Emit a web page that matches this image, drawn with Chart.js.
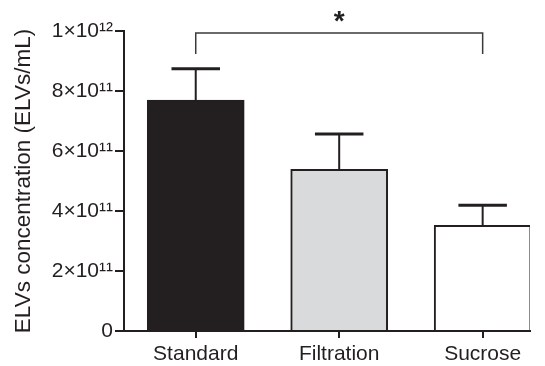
<!doctype html>
<html>
<head>
<title>ELVs concentration</title>
<script src="https://cdn.jsdelivr.net/npm/chart.js@4.4.1/dist/chart.umd.min.js"></script>
<style>
  html, body { margin: 0; padding: 0; background: #fff; }
  canvas { display: block; }
</style>
</head>
<body>
<canvas id="chart-area" width="545" height="366"></canvas>
<script>
var categories = ['Standard', 'Filtration', 'Sucrose'];
var means = [7.7e11, 5.39e11, 3.52e11];
var errors = [1.04e11, 1.18e11, 0.67e11];
var fills = ['#231f20', '#d9dadb', '#ffffff'];
var yTicks = [0, 2e11, 4e11, 6e11, 8e11, 1e12];
// significance bracket: from category, to category, level, leg bottom, label
var sigFrom = 0, sigTo = 2, sigLevel = 9.93e11, sigLegEnd = 9.23e11, sigLabel = '*';

var ink = '#231f20';
var font = "'Liberation Sans', Arial, sans-serif";
var supers = {'0':'\u2070','1':'\u00b9','2':'\u00b2','3':'\u00b3','4':'\u2074','5':'\u2075','6':'\u2076','7':'\u2077','8':'\u2078','9':'\u2079'};

function sciLabel(v) {
    if (v === 0) return '0';
    var e = Math.floor(Math.log10(v) + 1e-9);
    var m = Math.round(v / Math.pow(10, e));
    var s = String(e).split('').map(function(c) { return supers[c]; }).join('');
    return m + '\u00d710' + s;
}

var errorBars = {
    id: 'errorBars',
    afterDatasetsDraw: function(chart) {
        var ctx = chart.ctx;
        var y = chart.scales.y;
        var meta = chart.getDatasetMeta(0);
        ctx.save();
        ctx.strokeStyle = ink;
        meta.data.forEach(function(bar, i) {
            var top = y.getPixelForValue(means[i] + errors[i]);
            var half = bar.width / 4;
            ctx.lineWidth = 2;
            ctx.beginPath();
            ctx.moveTo(bar.x, bar.y);
            ctx.lineTo(bar.x, top);
            ctx.stroke();
            ctx.lineWidth = 3;
            ctx.beginPath();
            ctx.moveTo(bar.x - half, top);
            ctx.lineTo(bar.x + half, top);
            ctx.stroke();
        });
        // significance bracket
        var x = chart.scales.x;
        var x1 = x.getPixelForValue(sigFrom), x2 = x.getPixelForValue(sigTo);
        var yl = y.getPixelForValue(sigLevel), yb = y.getPixelForValue(sigLegEnd);
        ctx.strokeStyle = '#3a3a3a';
        ctx.lineWidth = 1.5;
        ctx.beginPath();
        ctx.moveTo(x1, yb);
        ctx.lineTo(x1, yl);
        ctx.lineTo(x2, yl);
        ctx.lineTo(x2, yb);
        ctx.stroke();
        ctx.fillStyle = ink;
        ctx.font = 'bold 28px ' + font;
        ctx.textAlign = 'center';
        ctx.textBaseline = 'alphabetic';
        ctx.fillText(sigLabel, (x1 + x2) / 2, yl - 3);
        ctx.restore();
    }
};

var ctx = document.getElementById('chart-area').getContext('2d');
window.myBar = new Chart(ctx, {
    type: 'bar',
    data: {
        datasets: [{
            data: means.map(function(v, i) { return {x: i, y: v}; }),
            backgroundColor: fills,
            borderColor: ink,
            borderWidth: 2,
            borderSkipped: 'bottom',
            barThickness: 97
        }]
    },
    options: {
        responsive: false,
        maintainAspectRatio: false,
        animation: false,
        devicePixelRatio: 1,
        layout: { padding: { top: 31, right: 15, left: 0, bottom: 0 } },
        plugins: {
            legend: { display: false },
            title: { display: false },
            tooltip: { enabled: false }
        },
        scales: {
            x: {
                type: 'linear',
                offset: false,
                min: -0.5,
                max: 2.33,
                afterBuildTicks: function(scale) {
                    scale.ticks = categories.map(function(c, i) { return {value: i}; });
                },
                afterFit: function(scale) { scale.height = 35; },
                ticks: {
                    callback: function(v) { return categories[v]; },
                    color: ink,
                    font: { family: font, size: 21 },
                    padding: 4,
                    maxRotation: 0,
                    autoSkip: false
                },
                grid: { offset: false, drawOnChartArea: false, drawTicks: true, tickLength: 7, color: ink, lineWidth: 2 },
                border: { color: ink, width: 2 }
            },
            y: {
                min: 0,
                max: 1e12,
                afterBuildTicks: function(scale) {
                    scale.ticks = yTicks.map(function(v) { return {value: v}; });
                },
                afterFit: function(scale) { scale.width = 124; },
                ticks: {
                    callback: function(v) { return sciLabel(v); },
                    color: ink,
                    font: { family: font, size: 21 },
                    padding: 2,
                    autoSkip: false
                },
                grid: { drawOnChartArea: false, drawTicks: true, tickLength: 9, color: ink, lineWidth: 2 },
                border: { color: ink, width: 2 },
                title: {
                    display: true,
                    text: 'ELVs concentration (ELVs/mL)',
                    color: ink,
                    font: { family: font, size: 22.5 },
                    padding: { top: 10, bottom: 2 }
                }
            }
        }
    },
    plugins: [errorBars]
});
</script>
</body>
</html>
